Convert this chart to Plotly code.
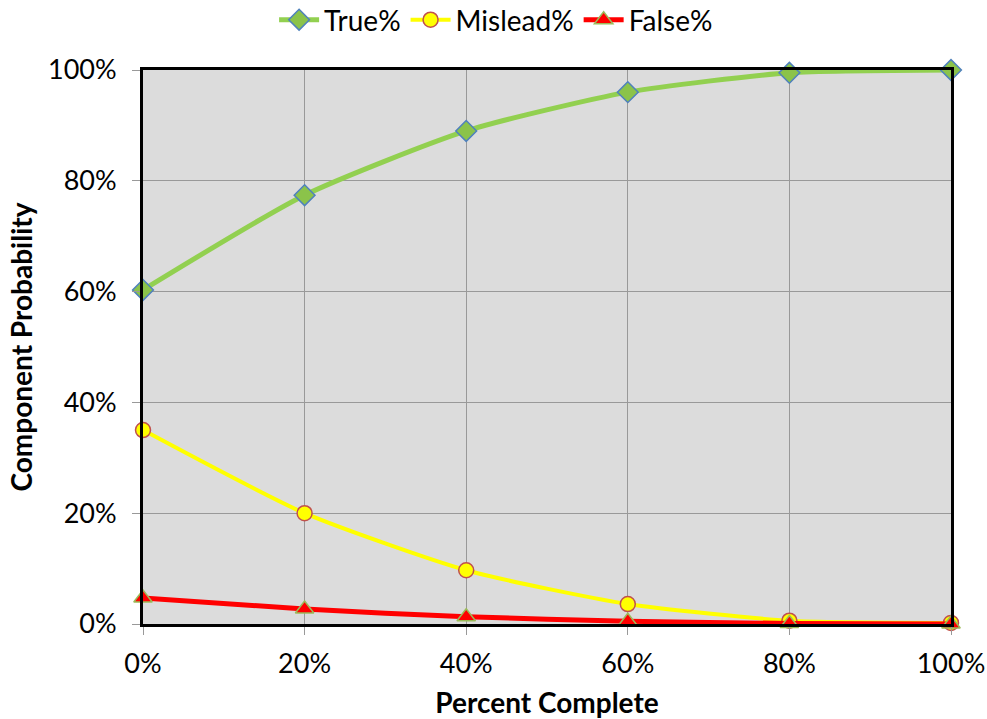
import plotly.graph_objects as go

x_pct = [0, 0.2, 0.4, 0.6, 0.8, 1.0]
true_pct = [0.603, 0.774, 0.890, 0.960, 0.995, 1.000]
mislead_pct = [0.350, 0.200, 0.097, 0.036, 0.006, 0.002]
false_pct = [0.047, 0.027, 0.013, 0.005, 0.001, 0.000]

font_family = "Lato, Liberation Sans, Arial, sans-serif"

fig = go.Figure()
fig.add_trace(go.Scatter(
    x=x_pct, y=true_pct, name="True%", mode="lines+markers",
    line=dict(color="#92D050", width=5, shape="spline", smoothing=0.6),
    marker=dict(symbol="diamond", size=16, color="#8BC34A", line=dict(color="#4F81BD", width=1.5)),
    cliponaxis=False,
))
fig.add_trace(go.Scatter(
    x=x_pct, y=mislead_pct, name="Mislead%", mode="lines+markers",
    line=dict(color="#FFFF00", width=4, shape="spline", smoothing=0.6),
    marker=dict(symbol="circle", size=15, color="#FFFF00", line=dict(color="#C0504D", width=1.5)),
    cliponaxis=False,
))
fig.add_trace(go.Scatter(
    x=x_pct, y=false_pct, name="False%", mode="lines+markers",
    line=dict(color="#FF0000", width=5, shape="spline", smoothing=0.6),
    marker=dict(symbol="triangle-up", size=16, color="#FF0000", line=dict(color="#9BBB59", width=1.5)),
    cliponaxis=False,
))

fig.update_layout(
    width=987, height=719,
    margin=dict(l=143, r=36, t=70, b=95, autoexpand=False),
    paper_bgcolor="white",
    plot_bgcolor="#DCDCDC",
    font=dict(family=font_family, size=27, color="black"),
    showlegend=True,
    legend=dict(orientation="h", x=0.437, xanchor="center", y=1 + 50 / 554, yanchor="middle",
                font=dict(size=28), itemwidth=40, bgcolor="rgba(0,0,0,0)"),
)
fig.update_xaxes(
    range=[0, 1], tickvals=x_pct, tickformat=".0%",
    showgrid=True, gridcolor="#999999", gridwidth=1,
    showline=True, linecolor="black", linewidth=3, mirror=True,
    ticks="outside", ticklen=8, tickcolor="#999999", ticklabelstandoff=6,
    zeroline=False, automargin=False,
    title=dict(text="<b>Percent Complete</b>", font=dict(size=28), standoff=16),
)
fig.update_yaxes(
    range=[0, 1], tickvals=[0, 0.2, 0.4, 0.6, 0.8, 1.0], tickformat=".0%",
    showgrid=True, gridcolor="#999999", gridwidth=1,
    showline=True, linecolor="black", linewidth=3, mirror=True,
    ticks="outside", ticklen=8, tickcolor="#999999", ticklabelstandoff=10,
    zeroline=False, automargin=False,
    title=dict(text="<b>Component Probability</b>", font=dict(size=28), standoff=8),
)

fig.write_html("out.html", config={"displayModeBar": False},
               post_script="document.body.style.margin='0px';")
